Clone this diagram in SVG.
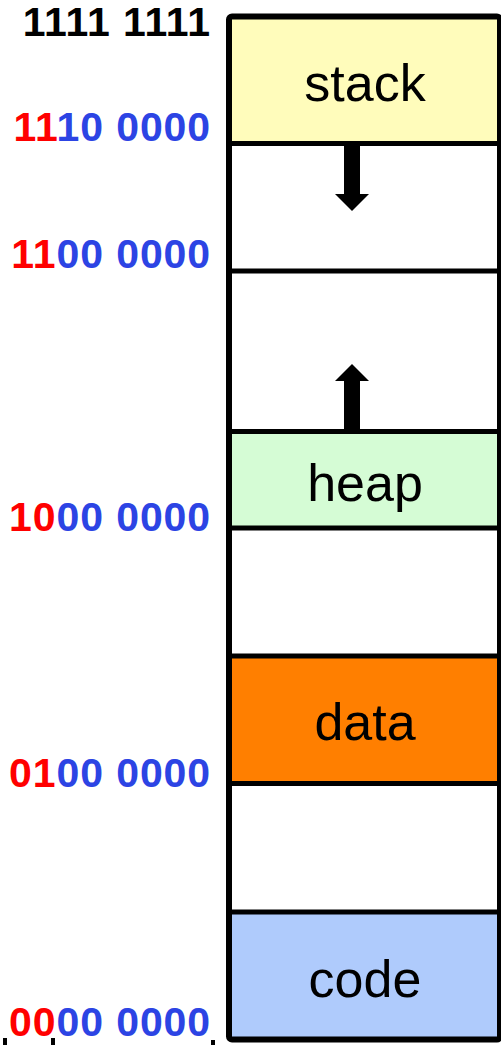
<svg xmlns="http://www.w3.org/2000/svg" width="501" height="1045" viewBox="0 0 501 1045">
  <style>
    .addr { font-family: "Liberation Sans", Arial, sans-serif; font-weight: bold; font-size: 41px; letter-spacing: 0.9px; text-anchor: end; }
    .hi { fill: #ff0000; }
    .lo { fill: #2c44e4; }
    .seg-label { font-family: "Liberation Sans", Arial, sans-serif; font-size: 52px; text-anchor: middle; fill: #000; }
    .divider { stroke: #000; stroke-width: 5; }
    .arrow { fill: #000; }
  </style>

  <rect width="501" height="1045" fill="#ffffff"/>

  <!-- memory segments -->
  <g id="stack">
    <rect x="229" y="16.5" width="271" height="127" fill="#fffcbb"/>
    <text class="seg-label" x="365" y="101">stack</text>
  </g>
  <g id="heap">
    <rect x="229" y="431.5" width="271" height="97" fill="#d5fcd5"/>
    <text class="seg-label" x="365" y="501">heap</text>
  </g>
  <g id="data">
    <rect x="229" y="656" width="271" height="128" fill="#ff7f00"/>
    <text class="seg-label" x="365" y="740">data</text>
  </g>
  <g id="code">
    <rect x="229" y="912" width="271" height="127" fill="#afcbfc"/>
    <text class="seg-label" x="365" y="997">code</text>
  </g>

  <!-- region boundaries -->
  <g id="dividers">
    <line class="divider" x1="229" y1="143.5" x2="500" y2="143.5"/>
    <line class="divider" x1="229" y1="271" x2="500" y2="271"/>
    <line class="divider" x1="229" y1="431.5" x2="500" y2="431.5"/>
    <line class="divider" x1="229" y1="528" x2="500" y2="528"/>
    <line class="divider" x1="229" y1="656" x2="500" y2="656"/>
    <line class="divider" x1="229" y1="783.5" x2="500" y2="783.5"/>
    <line class="divider" x1="229" y1="912" x2="500" y2="912"/>
  </g>

  <!-- outer frame -->
  <rect id="frame" x="229" y="16.5" width="271" height="1023" rx="3" fill="none" stroke="#000" stroke-width="6"/>

  <!-- growth directions -->
  <g id="connectors">
    <polygon class="arrow" points="344,145 360,145 360,194 369,194 352,211 335,194 344,194"/>
    <polygon class="arrow" points="344,430 360,430 360,381 369,381 352,364 335,381 344,381"/>
  </g>

  <!-- addresses -->
  <g id="addresses">
    <text class="addr" x="211" y="36" font-size="38" fill="#000">1111 1111</text>
    <text class="addr" x="211" y="141"><tspan class="hi">11</tspan><tspan class="lo">10 0000</tspan></text>
    <text class="addr" x="211" y="268"><tspan class="hi">11</tspan><tspan class="lo">00 0000</tspan></text>
    <text class="addr" x="211" y="531"><tspan class="hi">10</tspan><tspan class="lo">00 0000</tspan></text>
    <text class="addr" x="211" y="787"><tspan class="hi">01</tspan><tspan class="lo">00 0000</tspan></text>
    <text class="addr" x="211" y="1036"><tspan class="hi">00</tspan><tspan class="lo">00 0000</tspan></text>
  </g>

  <!-- ticks along the bottom edge -->
  <g id="ticks" fill="#000">
    <rect x="3" y="1038" width="4" height="7"/>
    <rect x="51" y="1038" width="4" height="7"/>
    <rect x="211" y="1040" width="4" height="5"/>
  </g>
</svg>
